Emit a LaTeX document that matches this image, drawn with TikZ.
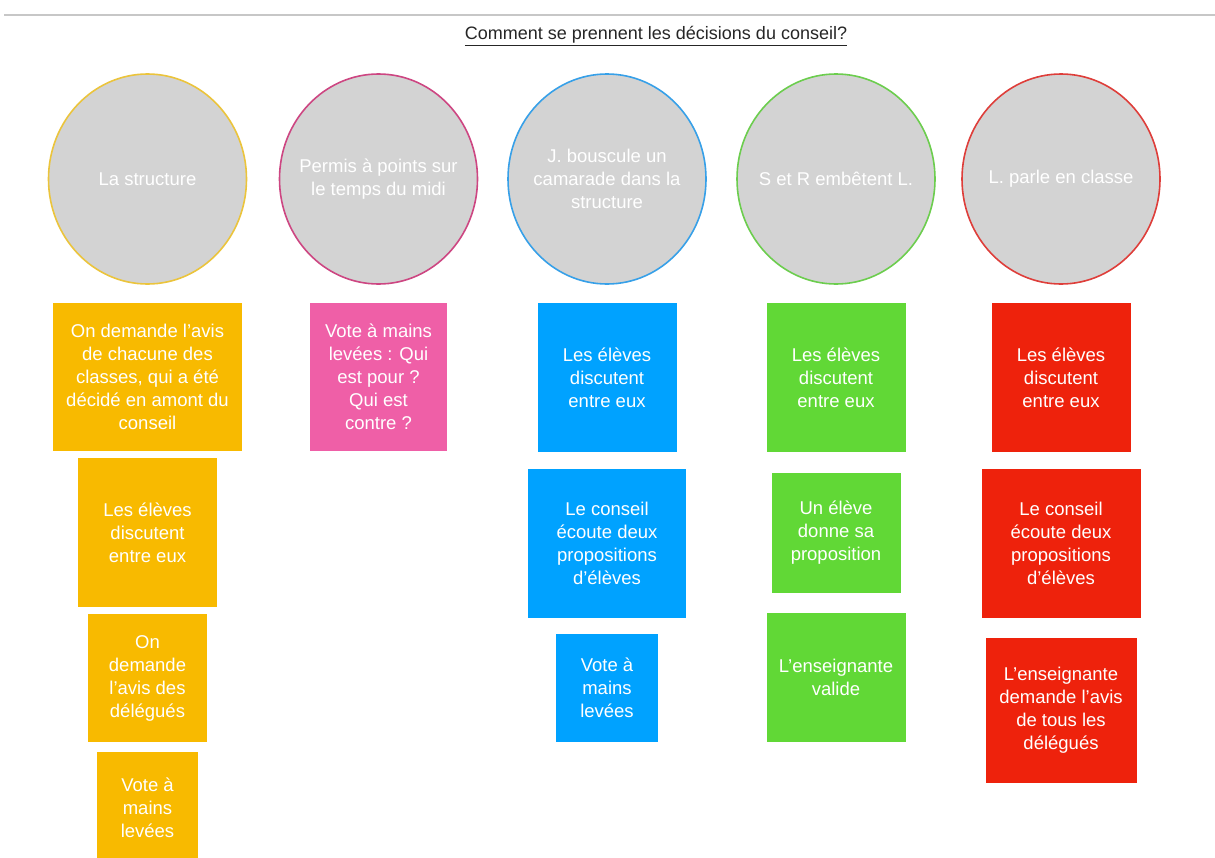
\documentclass[tikz,border=0pt]{standalone}
\usepackage{fontspec}
\setmainfont{Liberation Sans}
\usepackage{tikz}
\usetikzlibrary{shapes.geometric, positioning}
\definecolor{jaune}{RGB}{248,186,0}
\definecolor{rose}{RGB}{239,95,167}
\definecolor{bleu}{RGB}{0,162,255}
\definecolor{vert}{RGB}{97,216,54}
\definecolor{rouge}{RGB}{238,34,12}
\definecolor{gris}{RGB}{211,211,211}
\definecolor{bjaune}{RGB}{235,196,60}
\definecolor{brose}{RGB}{205,70,130}
\definecolor{bbleu}{RGB}{55,160,232}
\definecolor{bvert}{RGB}{108,205,78}
\definecolor{brouge}{RGB}{222,62,58}
\tikzstyle{cercle} = [ellipse, fill=gris, line width=1.6pt, minimum width=198pt, minimum height=210pt, inner sep=0pt]
\tikzstyle{cercletexte} = [inner sep=0pt, text=white, align=center, font=\fontsize{18.5}{23}\selectfont]
\tikzstyle{carte} = [rectangle, inner sep=0pt, text=white, align=center, font=\fontsize{18.5}{23}\selectfont]

\begin{document}
\begin{tikzpicture}[x=1pt, y=-1pt]
            \useasboundingbox (0,0) rectangle (1215,857);
            \draw[black!22, line width=1.2pt] (4,15) -- (1215,15);
            \node[font=\fontsize{18}{22}\selectfont, text=black!85] (titre) at (656,36) {\underline{Comment se prennent les décisions du conseil?}};
            % les situations
            \foreach \x/\c/\n/\t in {147.5/bjaune/1/{La structure}, 378.5/brose/2/{Permis à points sur\\le temps du midi}, 607/bbleu/3/{J. bouscule un\\camarade dans la\\structure}, 836/bvert/4/{S et R embêtent L.}, 1061/brouge/5/{L. parle en classe}} {
                \node[cercle, draw=\c] (c\n) at (\x,179) {};
                \node[cercletexte] (t\n) at (c\n) {\t};
            }
            % colonne 1
            \node[carte, fill=jaune, minimum width=189pt, minimum height=148pt] (j1) at (147.5,377) {On demande l’avis\\de chacune des\\classes, qui a été\\décidé en amont du\\conseil};
            \node[carte, fill=jaune, minimum width=139pt, minimum height=149pt] (j2) at (147.5,532.5) {Les élèves\\discutent\\entre eux};
            \node[carte, fill=jaune, minimum width=119pt, minimum height=128pt] (j3) at (147.5,678) {On\\demande\\l’avis des\\délégués};
            \node[carte, fill=jaune, minimum width=101pt, minimum height=112pt] (j4) at (147.5,808) {Vote à\\mains\\levées};
            % colonne 2
            \node[carte, fill=rose, minimum width=137pt, minimum height=148pt] (r1) at (378.5,377) {Vote à mains\\levées : Qui\\est pour ?\\Qui est\\contre ?};
            % colonne 3
            \node[carte, fill=bleu, minimum width=139pt, minimum height=149pt] (b1) at (607,377.5) {Les élèves\\discutent\\entre eux};
            \node[carte, fill=bleu, minimum width=158pt, minimum height=149pt] (b2) at (607,543.5) {Le conseil\\écoute deux\\propositions\\d’élèves};
            \node[carte, fill=bleu, minimum width=102pt, minimum height=108pt] (b3) at (607,688) {Vote à\\mains\\levées};
            % colonne 4
            \node[carte, fill=vert, minimum width=139pt, minimum height=149pt] (v1) at (836,377.5) {Les élèves\\discutent\\entre eux};
            \node[carte, fill=vert, minimum width=129pt, minimum height=120pt] (v2) at (836,533) {Un élève\\donne sa\\proposition};
            \node[carte, fill=vert, minimum width=139pt, minimum height=129pt] (v3) at (836,677.5) {L’enseignante\\valide};
            % colonne 5
            \node[carte, fill=rouge, minimum width=139pt, minimum height=149pt] (o1) at (1061,377.5) {Les élèves\\discutent\\entre eux};
            \node[carte, fill=rouge, minimum width=159pt, minimum height=149pt] (o2) at (1061,543.5) {Le conseil\\écoute deux\\propositions\\d’élèves};
            \node[carte, fill=rouge, minimum width=151pt, minimum height=145pt] (o3) at (1061,710.5) {L’enseignante\\demande l’avis\\de tous les\\délégués};
        \end{tikzpicture}
\end{document}
